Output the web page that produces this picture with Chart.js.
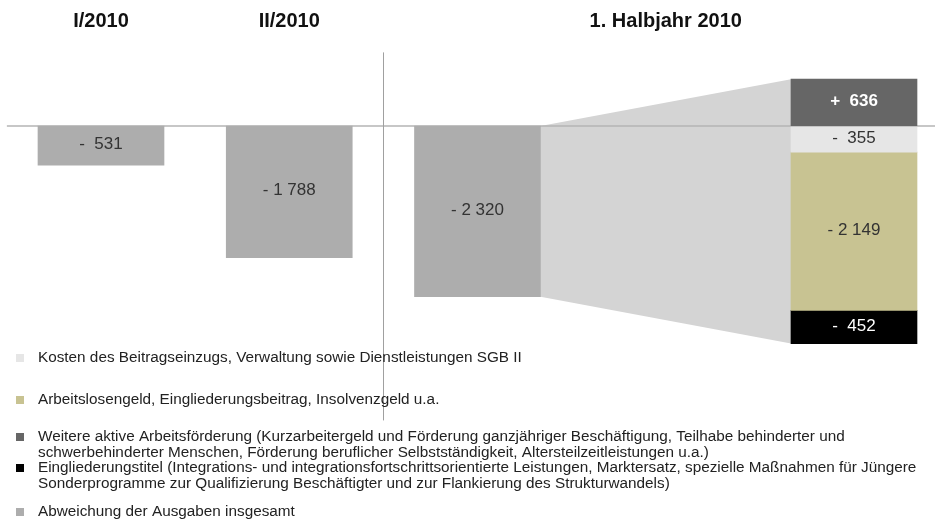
<!DOCTYPE html>
<html>
<head>
<meta charset="utf-8">
<script src="https://cdn.jsdelivr.net/npm/chart.js@4.4.0/dist/chart.umd.min.js"></script>
<style>
  html, body { margin: 0; padding: 0; background: #fff; }
  #wrap { width: 935px; height: 520px; }
</style>
</head>
<body>
<div id="wrap"><canvas id="chart" width="935" height="520"></canvas></div>
<script>
// headers above the bars
var periodLabels = ['I/2010', 'II/2010', '1. Halbjahr 2010'];
var periodPos = [0, 1, 3];

// total deviation per period
var totalName = 'Abweichung der Ausgaben insgesamt';
var totalPos = [0, 1, 2];
var totalValues = [-531, -1788, -2320];

// breakdown of the half year
var partPos = 4;
var partNames = [
    'Weitere aktive Arbeitsförderung',
    'Kosten des Beitragseinzugs, Verwaltung sowie Dienstleistungen SGB II',
    'Arbeitslosengeld, Eingliederungsbeitrag, Insolvenzgeld u.a.',
    'Eingliederungstitel'
];
var partValues = [636, -355, -2149, -452];
var partColors = ['#666666', '#e6e6e6', '#c8c392', '#000000'];
var partTextColors = ['#ffffff', '#333333', '#333333', '#ffffff'];
var totalColor = '#adadad';

// legend entries (order as in the picture)
var legendItems = [
    { color: '#e6e6e6', lines: ['Kosten des Beitragseinzugs, Verwaltung sowie Dienstleistungen SGB II'] },
    { color: '#c8c392', lines: ['Arbeitslosengeld, Eingliederungsbeitrag, Insolvenzgeld u.a.'] },
    { color: '#666666', lines: ['Weitere aktive Arbeitsförderung (Kurzarbeitergeld und Förderung ganzjähriger Beschäftigung, Teilhabe behinderter und',
                                'schwerbehinderter Menschen, Förderung beruflicher Selbstständigkeit, Altersteilzeitleistungen u.a.)'] },
    { color: '#000000', lines: ['Eingliederungstitel (Integrations- und integrationsfortschrittsorientierte Leistungen, Marktersatz, spezielle Maßnahmen für Jüngere',
                                'Sonderprogramme zur Qualifizierung Beschäftigter und zur Flankierung des Strukturwandels)'] },
    { color: '#adadad', lines: ['Abweichung der Ausgaben insgesamt'] }
];
var legendY = [358, 400, 437, 468, 512];

function fmt(v) {
    var a = Math.abs(v);
    var s = a >= 1000 ? Math.floor(a / 1000) + ' ' + String(a % 1000).padStart(3, '0') : String(a);
    return (v < 0 ? '-' : '+') + (a < 1000 ? '  ' : ' ') + s;
}

var datasets = [{
    label: totalName,
    data: totalPos.map(function (p, i) { return { x: p, y: totalValues[i] }; }),
    backgroundColor: totalColor,
    textColor: '#333333',
    barThickness: 126,
    stack: 's'
}];
partValues.forEach(function (v, i) {
    datasets.push({
        label: partNames[i],
        data: [{ x: partPos, y: v }],
        backgroundColor: partColors[i],
        textColor: partTextColors[i],
        bold: i === 0,
        barThickness: 126,
        stack: 's'
    });
});

var decor = {
    id: 'decor',
    beforeDatasetsDraw: function (chart) {
        var ctx = chart.ctx, x = chart.scales.x, y = chart.scales.y;
        var y0 = y.getPixelForValue(0);
        ctx.save();
        // connector between half-year total and its breakdown
        var tot = chart.getDatasetMeta(0).data[2];
        var top = chart.getDatasetMeta(1).data[0];
        var bot = chart.getDatasetMeta(4).data[0];
        var xl = tot.x + tot.width / 2, xr = top.x - top.width / 2;
        ctx.fillStyle = '#d4d4d4';
        ctx.beginPath();
        ctx.moveTo(xl, y0);
        ctx.lineTo(xr, top.y);
        ctx.lineTo(xr, bot.y);
        ctx.lineTo(xl, tot.y);
        ctx.closePath();
        ctx.fill();
        // zero line
        ctx.strokeStyle = '#b4b4b4';
        ctx.lineWidth = 1.5;
        ctx.beginPath();
        ctx.moveTo(x.getPixelForValue(-0.5), y0);
        ctx.lineTo(chart.width, y0);
        ctx.stroke();
        // divider
        ctx.strokeStyle = '#a0a0a0';
        ctx.lineWidth = 1;
        var xd = Math.round(x.getPixelForValue(1.5)) + 0.5;
        ctx.beginPath();
        ctx.moveTo(xd, y.getPixelForValue(1000));
        ctx.lineTo(xd, y.getPixelForValue(-4000));
        ctx.stroke();
        ctx.restore();
    },
    afterDatasetsDraw: function (chart) {
        var ctx = chart.ctx, x = chart.scales.x;
        ctx.save();
        ctx.textAlign = 'center';
        ctx.textBaseline = 'middle';
        chart.data.datasets.forEach(function (ds, di) {
            chart.getDatasetMeta(di).data.forEach(function (el, i) {
                ctx.fillStyle = ds.textColor;
                ctx.font = (ds.bold ? 'bold ' : '') + '17px "Liberation Sans", Arial, sans-serif';
                ctx.fillText(fmt(ds.data[i].y), el.x, (el.y + el.base) / 2 - 1);
            });
        });
        // period headers
        ctx.fillStyle = '#111111';
        ctx.font = 'bold 20px "Liberation Sans", Arial, sans-serif';
        periodLabels.forEach(function (t, i) {
            ctx.fillText(t, x.getPixelForValue(periodPos[i]), 21);
        });
        // legend
        ctx.textAlign = 'left';
        ctx.font = '15.3px "Liberation Sans", Arial, sans-serif';
        legendItems.forEach(function (it, i) {
            ctx.fillStyle = it.color;
            ctx.fillRect(16, legendY[i] - 4, 8, 8);
            ctx.fillStyle = '#222222';
            it.lines.forEach(function (ln, k) {
                ctx.fillText(ln, 38, legendY[i] + k * 15.5);
            });
        });
        ctx.restore();
    }
};

new Chart(document.getElementById('chart'), {
    type: 'bar',
    data: { datasets: datasets },
    options: {
        responsive: false,
        animation: false,
        devicePixelRatio: 1,
        layout: { padding: 0 },
        plugins: { legend: { display: false }, tooltip: { enabled: false } },
        scales: {
            x: { type: 'linear', min: -0.5365, max: 4.4303, offset: false, stacked: true, display: false },
            y: { min: -5353, max: 1712, stacked: true, display: false }
        }
    },
    plugins: [decor]
});
</script>
</body>
</html>
